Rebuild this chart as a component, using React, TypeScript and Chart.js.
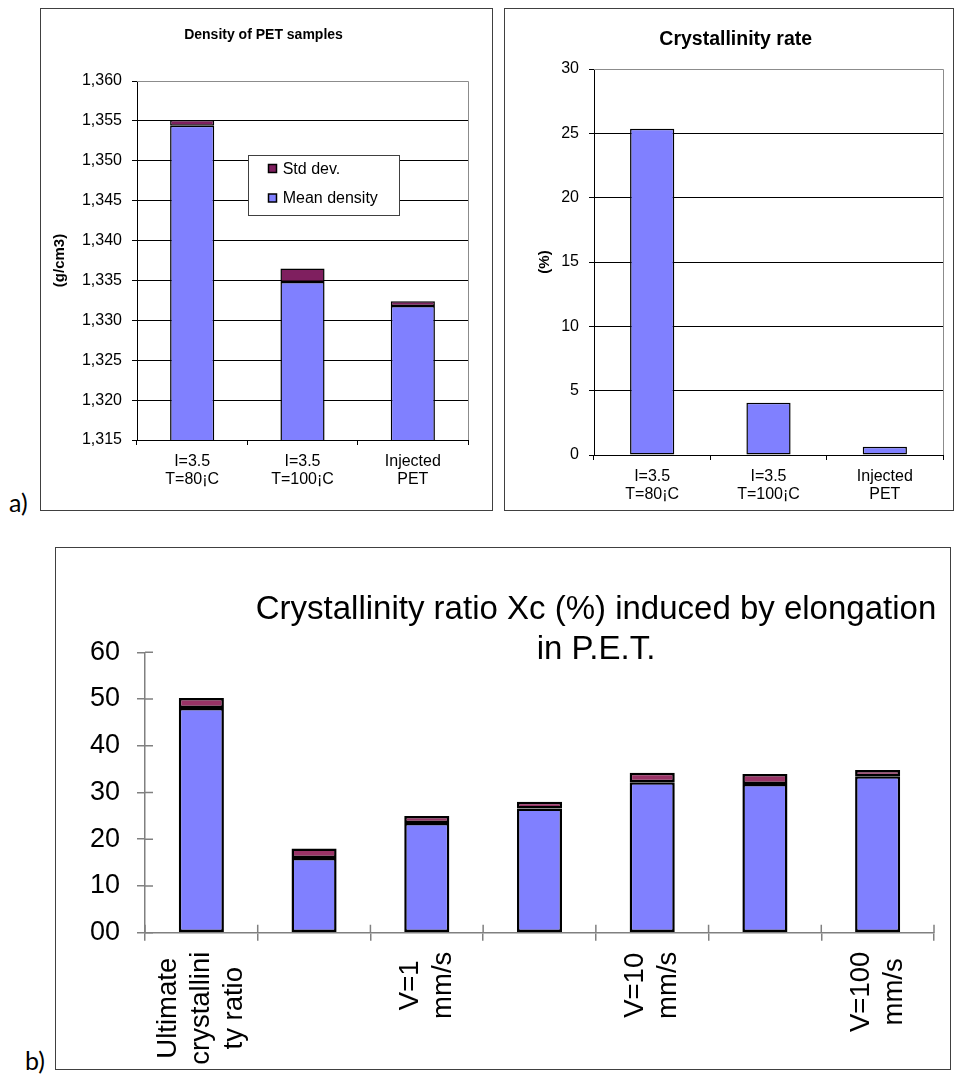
import React, { useEffect, useRef } from "react";
import { Chart, registerables } from "chart.js";

Chart.register(...registerables);

const FONT = "'Liberation Sans', Arial, Helvetica, sans-serif";
const BLUE = "#8080FF";
const PLUM = "#7F1F5F";
const PLUM_B = "#993366";

// ---- (a) left: density ----
const sampleLabels = [["I=3.5", "T=80¡C"], ["I=3.5", "T=100¡C"], ["Injected", "PET"]];
const meanDensity = [1.3544, 1.3348, 1.3318];
const stdDensity = [0.0007, 0.0017, 0.0006];
const densityTicks = [1.315, 1.32, 1.325, 1.33, 1.335, 1.34, 1.345, 1.35, 1.355, 1.36];
const densityTickLabels = ["1,315", "1,320", "1,325", "1,330", "1,335", "1,340", "1,345", "1,350", "1,355", "1,360"];

// ---- (a) right: crystallinity rate ----
const crystallinityRate = [25.36, 4.06, 0.65];
const rateTicks = [0, 5, 10, 15, 20, 25, 30];
const rateTickLabels = ["0", "5", "10", "15", "20", "25", "30"];

// ---- (b) crystallinity ratio by elongation ----
const elongLabels = [["Ultimate", "crystallini", "ty ratio"], [], ["V=1", "mm/s"], [], ["V=10", "mm/s"], [], ["V=100", "mm/s"]];
const meanXc = [48.1, 16.0, 23.5, 26.6, 32.2, 31.8, 33.5];
const stdXc = [2.1, 2.0, 1.45, 1.4, 2.05, 2.15, 1.3];
const xcTicks = [0, 10, 20, 30, 40, 50, 60];
const xcTickLabels = ["00", "10", "20", "30", "40", "50", "60"];
const xcTitle = ["Crystallinity ratio Xc (%) induced by elongation", "in P.E.T."];

const plotFrame = {
  id: "plotFrame",
  beforeDatasetsDraw(chart: any) {
    const { ctx, chartArea: a } = chart;
    ctx.save();
    ctx.strokeStyle = "#8c8c8c";
    ctx.lineWidth = 1;
    const t = Math.round(a.top) + 0.5;
    const r = Math.round(a.right) + 0.5;
    ctx.beginPath();
    ctx.moveTo(a.left, t);
    ctx.lineTo(r, t);
    ctx.lineTo(r, a.bottom);
    ctx.stroke();
    ctx.restore();
  },
};

const insideLegend = {
  id: "insideLegend",
  afterDatasetsDraw(chart: any, _args: any, o: any) {
    if (!o || o.w === undefined) return;
    const { ctx, chartArea: a } = chart;
    const x = Math.round(a.left + o.dx);
    const y = Math.round(a.top + o.dy);
    ctx.save();
    ctx.fillStyle = "#fff";
    ctx.fillRect(x, y, o.w, o.h);
    ctx.strokeStyle = "#404040";
    ctx.lineWidth = 1;
    ctx.strokeRect(x + 0.5, y + 0.5, o.w, o.h);
    const items = chart.data.datasets.slice().reverse();
    ctx.font = `16px ${FONT}`;
    ctx.textBaseline = "middle";
    ctx.textAlign = "left";
    items.forEach((ds: any, i: number) => {
      const cy = y + o.firstY + i * o.gap;
      ctx.fillStyle = ds.backgroundColor;
      ctx.fillRect(x + o.swatchX, cy - 4, 8, 8);
      ctx.strokeStyle = "#000";
      ctx.lineWidth = 1.5;
      ctx.strokeRect(x + o.swatchX, cy - 4, 8, 8);
      ctx.fillStyle = "#000";
      ctx.fillText(ds.label, x + o.textX, cy + 1);
    });
    ctx.restore();
  },
};

const floatTitle = {
  id: "floatTitle",
  afterDraw(chart: any, _args: any, o: any) {
    if (!o || !o.lines) return;
    const { ctx } = chart;
    ctx.save();
    ctx.font = `${o.size}px ${FONT}`;
    ctx.fillStyle = "#000";
    ctx.textAlign = "center";
    ctx.textBaseline = "middle";
    o.lines.forEach((l: string, j: number) => ctx.fillText(l, o.x, o.y + j * o.lineHeight));
    ctx.restore();
  },
};

const rotatedLabels = {
  id: "rotatedLabels",
  afterDraw(chart: any, _args: any, o: any) {
    if (!o || !o.size) return;
    const { ctx, chartArea: a } = chart;
    const xs = chart.scales.x;
    ctx.save();
    ctx.font = `${o.size}px ${FONT}`;
    ctx.fillStyle = "#000";
    ctx.textAlign = "center";
    ctx.textBaseline = "middle";
    chart.data.labels.forEach((lines: string[], i: number) => {
      if (!lines || !lines.length) return;
      const x = xs.getPixelForValue(i);
      const w = Math.max(...lines.map((l) => ctx.measureText(l).width));
      ctx.save();
      ctx.translate(x, a.bottom + o.gap);
      ctx.rotate(-Math.PI / 2);
      lines.forEach((l, j) => ctx.fillText(l, -w / 2, (j - (lines.length - 1) / 2) * o.lineHeight));
      ctx.restore();
    });
    ctx.restore();
  },
};

const crossTicks = {
  id: "crossTicks",
  afterDatasetsDraw(chart: any, _args: any, o: any) {
    if (!o || !o.len) return;
    const { ctx, chartArea: a } = chart;
    const xs = chart.scales.x;
    const ys = chart.scales.y;
    ctx.save();
    ctx.strokeStyle = o.color;
    ctx.lineWidth = o.width;
    ctx.beginPath();
    ys.ticks.forEach((t: any) => {
      const y = ys.getPixelForValue(t.value);
      ctx.moveTo(a.left, y);
      ctx.lineTo(a.left + o.len, y);
    });
    const n = chart.data.labels.length;
    for (let i = 0; i <= n; i++) {
      const x = xs.getPixelForValue(i - 0.5);
      ctx.moveTo(x, a.bottom);
      ctx.lineTo(x, a.bottom - o.len);
    }
    ctx.stroke();
    ctx.restore();
  },
};

function makeDensity(): any {
  return {
    type: "bar",
    data: {
      labels: sampleLabels,
      datasets: [
        { label: "Mean density", data: meanDensity, backgroundColor: BLUE, borderColor: "#000", borderWidth: 1.5, borderSkipped: false, barPercentage: 0.4, categoryPercentage: 1, clip: 0 },
        { label: "Std dev.", data: stdDensity, backgroundColor: PLUM, borderColor: "#000", borderWidth: 1.5, borderSkipped: false, barPercentage: 0.4, categoryPercentage: 1, clip: 0 },
      ],
    },
    options: {
      responsive: false,
      animation: false,
      layout: { padding: { left: 18, right: 24, top: 0, bottom: 0 } },
      plugins: {
        legend: { display: false },
        tooltip: { enabled: false },
        title: {
          display: true,
          text: "Density of PET samples",
          color: "#000",
          font: { family: FONT, size: 14, weight: "bold", lineHeight: 1.2 },
          padding: { top: 17.6, bottom: 37.6 },
        },
        insideLegend: { dx: 111, dy: 74, w: 151, h: 60, swatchX: 20.5, textX: 34.7, firstY: 13.5, gap: 29.5 },
      },
      scales: {
        x: {
          stacked: true,
          afterFit: (s: any) => { s.height = 69; },
          grid: { offset: true, drawOnChartArea: false, color: "#000", tickColor: "#000", tickLength: 5 },
          border: { color: "#000", width: 1 },
          ticks: { color: "#000", font: { family: FONT, size: 16, lineHeight: 1.15 }, padding: 7, maxRotation: 0, minRotation: 0, autoSkip: false },
        },
        y: {
          stacked: true,
          min: densityTicks[0],
          max: densityTicks[densityTicks.length - 1],
          afterBuildTicks: (s: any) => { s.ticks = densityTicks.map((v) => ({ value: v })); },
          afterFit: (s: any) => { s.width = 78; },
          grid: {
            color: (c: any) => (c.tick && c.tick.value >= densityTicks[densityTicks.length - 1] - 1e-9 ? "rgba(0,0,0,0)" : "#000"),
            tickColor: "#000",
            tickLength: 5,
          },
          border: { color: "#000", width: 1 },
          ticks: { color: "#000", font: { family: FONT, size: 16 }, padding: 10, callback: (_v: any, i: number) => densityTickLabels[i] },
          title: {
            display: true,
            text: "(g/cm3)",
            color: "#000",
            font: { family: FONT, size: 15, weight: "bold", lineHeight: 1.2 },
            padding: { top: -8.5, bottom: 0 },
          },
        },
      },
    },
    plugins: [plotFrame, insideLegend],
  };
}

function makeRate(): any {
  return {
    type: "bar",
    data: {
      labels: sampleLabels,
      datasets: [
        { label: "Crystallinity rate", data: crystallinityRate, backgroundColor: BLUE, borderColor: "#000", borderWidth: 1.5, borderSkipped: false, barPercentage: 0.38, categoryPercentage: 1 },
      ],
    },
    options: {
      responsive: false,
      animation: false,
      layout: { padding: { left: 23.4, right: 9, top: 0, bottom: 0 } },
      plugins: {
        legend: { display: false },
        tooltip: { enabled: false },
        title: {
          display: true,
          text: "Crystallinity rate",
          color: "#000",
          font: { family: FONT, size: 19.5, weight: "bold", lineHeight: 1.2 },
          padding: { top: 19.3, bottom: 17.3 },
        },
      },
      scales: {
        x: {
          afterFit: (s: any) => { s.height = 54; },
          grid: { offset: true, drawOnChartArea: false, color: "#000", tickColor: "#000", tickLength: 5 },
          border: { color: "#000", width: 1 },
          ticks: { color: "#000", font: { family: FONT, size: 16, lineHeight: 1.15 }, padding: 7, maxRotation: 0, minRotation: 0, autoSkip: false },
        },
        y: {
          min: rateTicks[0],
          max: rateTicks[rateTicks.length - 1],
          afterBuildTicks: (s: any) => { s.ticks = rateTicks.map((v) => ({ value: v })); },
          afterFit: (s: any) => { s.width = 65.6; },
          grid: {
            color: (c: any) => (c.tick && c.tick.value >= rateTicks[rateTicks.length - 1] ? "rgba(0,0,0,0)" : "#000"),
            tickColor: "#000",
            tickLength: 5,
          },
          border: { color: "#000", width: 1 },
          ticks: { color: "#000", font: { family: FONT, size: 16 }, padding: 10, callback: (_v: any, i: number) => rateTickLabels[i] },
          title: {
            display: true,
            text: "(%)",
            color: "#000",
            font: { family: FONT, size: 15, weight: "bold", lineHeight: 1.2 },
            padding: { top: 7.6, bottom: 0 },
          },
        },
      },
    },
    plugins: [plotFrame],
  };
}

function makeElong(): any {
  return {
    type: "bar",
    data: {
      labels: elongLabels,
      datasets: [
        { label: "Xc", data: meanXc, backgroundColor: BLUE, borderColor: "#000", borderWidth: 2.5, borderSkipped: false, barPercentage: 0.4, categoryPercentage: 1 },
        { label: "Std dev.", data: stdXc, backgroundColor: PLUM_B, borderColor: "#000", borderWidth: 2.5, borderSkipped: false, barPercentage: 0.4, categoryPercentage: 1 },
      ],
    },
    options: {
      responsive: false,
      animation: false,
      layout: { padding: { left: 0, right: 15, top: 104.3, bottom: 0 } },
      plugins: {
        legend: { display: false },
        tooltip: { enabled: false },
        floatTitle: { lines: xcTitle, x: 540, y: 62.3, size: 33, lineHeight: 39.6 },
        rotatedLabels: { size: 27.5, gap: 19, lineHeight: 33 },
        crossTicks: { len: 8, color: "#808080", width: 1.5 },
      },
      scales: {
        x: {
          stacked: true,
          afterFit: (s: any) => { s.height = 135.3; },
          grid: { offset: true, drawOnChartArea: false, color: "#808080", tickColor: "#808080", lineWidth: 1.5, tickLength: 8 },
          border: { color: "#808080", width: 1.5 },
          ticks: { display: false },
        },
        y: {
          stacked: true,
          min: xcTicks[0],
          max: xcTicks[xcTicks.length - 1],
          afterBuildTicks: (s: any) => { s.ticks = xcTicks.map((v) => ({ value: v })); },
          afterFit: (s: any) => { s.width = 89; },
          grid: { drawOnChartArea: false, color: "#808080", tickColor: "#808080", lineWidth: 1.5, tickLength: 8 },
          border: { color: "#808080", width: 1.5 },
          ticks: { color: "#000", font: { family: FONT, size: 27 }, padding: 17, callback: (_v: any, i: number) => xcTickLabels[i] },
        },
      },
    },
    plugins: [rotatedLabels, crossTicks, floatTitle],
  };
}

function ChartCanvas({ x, y, w, h, make }: { x: number; y: number; w: number; h: number; make: () => any }) {
  const ref = useRef<HTMLCanvasElement | null>(null);
  useEffect(() => {
    if (!ref.current) return;
    const chart = new Chart(ref.current, make());
    return () => chart.destroy();
  }, []);
  return (
    <canvas
      ref={ref}
      width={w}
      height={h}
      style={{ position: "absolute", left: x, top: y, width: w, height: h }}
    />
  );
}

const boxStyle = (l: number, t: number, w: number, h: number): React.CSSProperties => ({
  position: "absolute",
  left: l,
  top: t,
  width: w,
  height: h,
  boxSizing: "border-box",
  border: "1px solid #404040",
  background: "#fff",
});

const tagStyle = (l: number, t: number): React.CSSProperties => ({
  position: "absolute",
  left: l,
  top: t,
  fontFamily: "Lato, 'Open Sans', sans-serif",
  fontSize: 25,
  lineHeight: "25px",
  color: "#000",
});

export default function App() {
  return (
    <div style={{ position: "absolute", left: 0, top: 0, width: 954, height: 1075, background: "#fff", overflow: "hidden" }}>
      <div style={boxStyle(40, 8, 453, 503)} />
      <div style={boxStyle(504, 8, 450, 503)} />
      <div style={boxStyle(55, 547, 896, 523)} />
      <div style={tagStyle(9, 490)}>a)</div>
      <div style={tagStyle(25, 1048)}>b)</div>
      <ChartCanvas x={41} y={9} w={451} h={500} make={makeDensity} />
      <ChartCanvas x={505} y={9} w={447} h={500} make={makeRate} />
      <ChartCanvas x={56} y={548} w={893} h={520} make={makeElong} />
    </div>
  );
}
